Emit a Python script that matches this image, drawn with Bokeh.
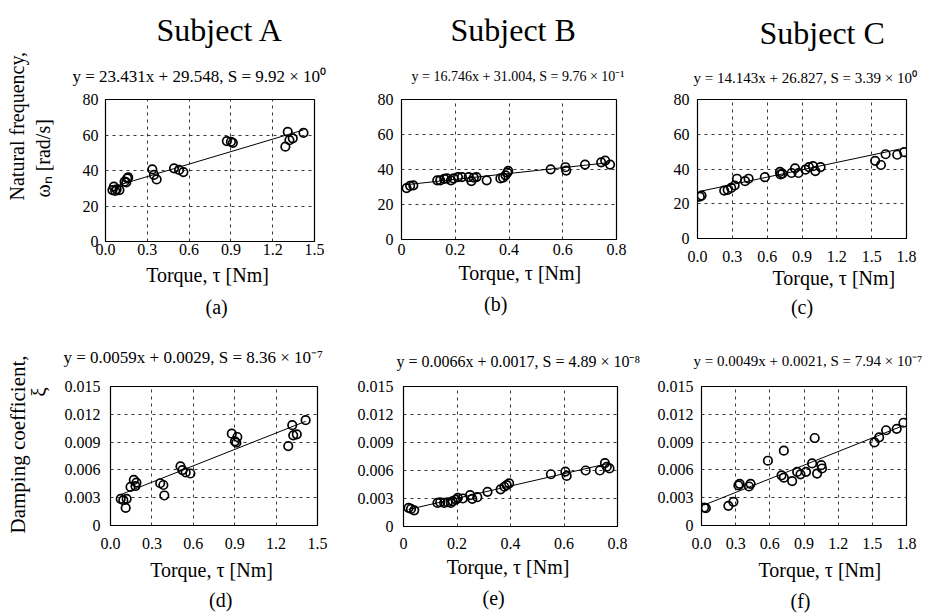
import math
from bokeh.plotting import figure
from bokeh.layouts import column, row
from bokeh.models import Range1d, FixedTicker, Title
from bokeh.embed import file_html
from bokeh.resources import INLINE

# ---------------- data ----------------
subjects = ["Subject A", "Subject B", "Subject C"]
panel_letters = ["(a)", "(b)", "(c)", "(d)", "(e)", "(f)"]

# Natural frequency [rad/s] vs torque [Nm]
a_tau = [0.05, 0.06, 0.07, 0.08, 0.10, 0.137, 0.149, 0.156, 0.163, 0.336, 0.348, 0.367,
         0.492, 0.528, 0.559, 0.871, 0.900, 0.914, 1.291, 1.308, 1.320, 1.344, 1.421]
a_wn = [29.0, 30.9, 28.5, 29.4, 29.0, 33.7, 33.3, 35.6, 36.1, 40.6, 37.5, 35.0,
        41.2, 40.3, 39.1, 56.6, 56.2, 55.6, 53.4, 61.8, 57.1, 58.1, 61.2]

b_tau = [0.019, 0.032, 0.044, 0.133, 0.144, 0.159, 0.169, 0.184, 0.194, 0.210, 0.225, 0.250,
         0.260, 0.269, 0.279, 0.317, 0.368, 0.378, 0.387, 0.394, 0.397, 0.555, 0.610, 0.613,
         0.683, 0.743, 0.758, 0.776]
b_wn = [29.4, 30.7, 30.9, 33.8, 33.8, 34.7, 34.9, 33.8, 34.9, 35.7, 35.7, 35.7,
        33.4, 35.3, 35.7, 33.8, 34.9, 35.3, 36.7, 38.2, 39.2, 40.1, 41.3, 39.4,
        42.8, 44.1, 45.1, 42.8]

c_tau = [0.02, 0.035, 0.23, 0.26, 0.29, 0.32, 0.34, 0.41, 0.44, 0.58, 0.71, 0.715, 0.73,
         0.81, 0.84, 0.87, 0.93, 0.96, 0.995, 1.015, 1.06, 1.53, 1.58, 1.62, 1.72, 1.78]
c_wn = [24.1, 24.7, 27.6, 28.0, 29.1, 30.5, 34.4, 33.0, 34.4, 35.3, 38.3, 36.9, 37.3,
        37.7, 40.4, 37.7, 39.6, 41.1, 41.6, 38.8, 41.1, 44.7, 42.3, 48.5, 48.2, 49.7]

# Damping coefficient vs torque [Nm]
d_tau = [0.074, 0.093, 0.110, 0.117, 0.145, 0.169, 0.181, 0.188, 0.360, 0.383, 0.390, 0.507,
         0.521, 0.545, 0.579, 0.879, 0.902, 0.912, 0.919, 1.288, 1.317, 1.324, 1.350, 1.414]
d_xi = [0.00288, 0.00273, 0.00190, 0.00288, 0.00416, 0.00492, 0.00426, 0.00463, 0.00456,
        0.00437, 0.00324, 0.00638, 0.00598, 0.00572, 0.00561, 0.00991, 0.00908, 0.00893,
        0.00955, 0.00857, 0.01083, 0.00973, 0.00984, 0.01137]

e_tau = [0.019, 0.028, 0.040, 0.127, 0.137, 0.152, 0.165, 0.177, 0.184, 0.196, 0.203, 0.222,
         0.249, 0.257, 0.276, 0.314, 0.363, 0.377, 0.386, 0.395, 0.551, 0.605, 0.610, 0.681,
         0.734, 0.753, 0.760, 0.770]
e_xi = [0.00199, 0.00188, 0.00173, 0.00253, 0.00260, 0.00253, 0.00260, 0.00253, 0.00271,
        0.00289, 0.00307, 0.00300, 0.00336, 0.00296, 0.00314, 0.00372, 0.00398, 0.00426,
        0.00444, 0.00463, 0.00560, 0.00589, 0.00542, 0.00600, 0.00600, 0.00680, 0.00640,
        0.00622]

f_tau = [0.023, 0.038, 0.236, 0.280, 0.324, 0.335, 0.417, 0.431, 0.583, 0.703, 0.723, 0.723,
         0.796, 0.840, 0.869, 0.918, 0.971, 0.994, 1.015, 1.052, 1.058, 1.519, 1.560, 1.621,
         1.714, 1.773]
f_xi = [0.00194, 0.00187, 0.00212, 0.00256, 0.00432, 0.00450, 0.00421, 0.00450, 0.00699,
        0.00541, 0.00808, 0.00516, 0.00479, 0.00578, 0.00552, 0.00578, 0.00670, 0.00944,
        0.00560, 0.00651, 0.00615, 0.00896, 0.00951, 0.01028, 0.01043, 0.01109]

# regression lines y = slope*x + intercept
fit_slope = [23.431, 16.746, 14.143, 0.0059, 0.0066, 0.0049]
fit_intercept = [29.548, 31.004, 26.827, 0.0029, 0.0017, 0.0021]
equations = [
    "y  = 23.431x + 29.548, S = 9.92 × 10⁰",
    "y  = 16.746x + 31.004, S = 9.76 × 10⁻¹",
    "y  = 14.143x + 26.827, S = 3.39 × 10⁰",
    "y  = 0.0059x + 0.0029, S = 8.36 × 10⁻⁷",
    "y  = 0.0066x + 0.0017, S = 4.89 × 10⁻⁸",
    "y  = 0.0049x + 0.0021, S = 7.94 × 10⁻⁷",
]

# axes
x_ticks_15 = [0, 0.3, 0.6, 0.9, 1.2, 1.5]
x_labels_15 = ["0.0", "0.3", "0.6", "0.9", "1.2", "1.5"]
x_ticks_08 = [0, 0.2, 0.4, 0.6, 0.8]
x_labels_08 = ["0", "0.2", "0.4", "0.6", "0.8"]
x_ticks_18 = [0, 0.3, 0.6, 0.9, 1.2, 1.5, 1.8]
x_labels_18 = ["0.0", "0.3", "0.6", "0.9", "1.2", "1.5", "1.8"]
y_ticks_wn = [0, 20, 40, 60, 80]
y_labels_wn = ["0", "20", "40", "60", "80"]
y_ticks_xi = [0, 0.003, 0.006, 0.009, 0.012, 0.015]
y_labels_xi = ["0", "0.003", "0.006", "0.009", "0.012", "0.015"]

x_axis_title = "Torque, τ  [Nm]"
y_title_wn = ["Natural frequency,", "ωₙ [rad/s]"]
y_title_xi = ["Damping coefficient,", "ξ"]

FONT = "Liberation Serif"


def add_title(p, text, side, size, standoff, offset=None, align=None):
    if align is None:
        align = "center" if offset is None else "left"
    kw = dict(text=text, text_font=FONT, text_font_size=f"{size}px",
              text_font_style="normal", text_color="black", align=align,
              offset=0 if offset is None else offset)
    try:
        t = Title(standoff=standoff, **kw)
    except Exception:
        t = Title(standoff=max(standoff, 0), **kw)
    p.add_layout(t, side)


def make_fig(g, xs, ys, k, xr, xt, xtl, yr, yt, ytl):
    p = figure(width=g["bl"] + g["fw"] + g["br"], height=g["bt"] + g["fh"] + g["bb"],
               frame_width=g["fw"], frame_height=g["fh"],
               min_border_left=g["bl"], min_border_right=g["br"],
               min_border_top=g["bt"], min_border_bottom=g["bb"],
               x_range=Range1d(*xr), y_range=Range1d(*yr),
               output_backend="svg", toolbar_location=None, title=None)
    p.background_fill_color = "white"
    p.border_fill_color = "white"
    p.outline_line_color = "black"
    p.outline_line_width = 1.2

    xtk = FixedTicker(ticks=xt)
    ytk = FixedTicker(ticks=yt)
    p.xaxis.ticker = xtk
    p.yaxis.ticker = ytk
    p.xgrid.ticker = xtk
    p.ygrid.ticker = ytk
    p.xaxis.major_label_overrides = dict(zip(xt, xtl))
    p.yaxis.major_label_overrides = dict(zip(yt, ytl))
    for ax, st in ((p.xaxis, g["xs"]), (p.yaxis, g["ys"])):
        ax.major_tick_line_color = None
        ax.minor_tick_line_color = None
        ax.major_tick_out = 0
        ax.major_tick_in = 0
        ax.axis_line_color = "black"
        ax.major_label_text_font = FONT
        ax.major_label_text_font_size = "16px"
        ax.major_label_text_color = "black"
        ax.major_label_standoff = st
    for gr in (p.xgrid, p.ygrid):
        gr.grid_line_color = "#222222"
        gr.grid_line_dash = "3 4"
        gr.grid_line_width = 1
        gr.grid_line_alpha = 0.9

    x0, x1 = min(xs), max(xs)
    p.line([x0, x1], [fit_slope[k] * x0 + fit_intercept[k], fit_slope[k] * x1 + fit_intercept[k]],
           line_color="black", line_width=1)
    p.scatter(xs, ys, marker="circle", size=8.5, fill_alpha=0, line_color="black", line_width=1.7)
    return p


# geometry per panel: borders, frame size, tick standoffs, title standoffs/offsets
G = [
    dict(bl=105, fw=209, br=16, bt=99, fh=142, bb=85, xs=2, ys=7,
         sub=(7, 51), eq=(17, 27, -33), xl=(8, None), lt=(9, 100),
         ygap=21, yl=[(20, 2, "left", 44), (20, 2, "left", 41)]),
    dict(bl=71, fw=215, br=24, bt=99, fh=140, bb=87, xs=4, ys=8,
         sub=(7, 49), eq=(14, 31, 10), xl=(4, 57), lt=(10, 82.5)),
    dict(bl=57, fw=209, br=29, bt=97, fh=139, bb=90, xs=12, ys=8,
         sub=(7, 62), eq=(15, 27, -4), xl=(0, 75), lt=(11, None)),
    dict(bl=110, fw=207, br=13, bt=60, fh=139, bb=89, xs=12, ys=10,
         eq=(17, 39, -47), xl=(11, None), lt=(0, 98.5),
         ygap=13, yl=[(21, -12, "right", 1), (21, 2, "left", -8)]),
    dict(bl=73, fw=214, br=23, bt=57, fh=140, bb=91, xs=11, ys=10,
         eq=(16, 34, -7), xl=(5, None), lt=(9, 79)),
    dict(bl=61, fw=205, br=29, bt=57, fh=139, bb=92, xs=12, ys=8,
         eq=(15, 35, -8), xl=(10, 57), lt=(4, 89)),
]

series = [(a_tau, a_wn), (b_tau, b_wn), (c_tau, c_wn), (d_tau, d_xi), (e_tau, e_xi), (f_tau, f_xi)]
xaxes = [((0, 1.5), x_ticks_15, x_labels_15), ((0, 0.8), x_ticks_08, x_labels_08),
         ((0, 1.8), x_ticks_18, x_labels_18)] * 2
yaxes = [((0, 80), y_ticks_wn, y_labels_wn)] * 3 + [((0, 0.015), y_ticks_xi, y_labels_xi)] * 3

figs = []
for k in range(6):
    g = G[k]
    xs, ys = series[k]
    xr, xt, xtl = xaxes[k]
    yr, yt, ytl = yaxes[k]
    p = make_fig(g, xs, ys, k, xr, xt, xtl, yr, yt, ytl)
    # above: equation (inner), subject (outer)
    es, est, eoff = g["eq"]
    add_title(p, equations[k], "above", es, est, offset=eoff)
    if k < 3:
        add_title(p, subjects[k], "above", 32, g["sub"][0], offset=g["sub"][1])
    # below: axis title (inner), panel letter (outer)
    add_title(p, x_axis_title, "below", 20, g["xl"][0], offset=g["xl"][1])
    add_title(p, panel_letters[k], "below", 20, g["lt"][0], offset=g["lt"][1])
    # left: y axis title lines (inner line first)
    if "yl" in g:
        p.yaxis.axis_label = " "
        p.yaxis.axis_label_text_font_size = "1px"
        p.yaxis.axis_label_standoff = g["ygap"]
        lines = y_title_wn if k == 0 else y_title_xi
        for (size, st, al, off), txt in zip(g["yl"], [lines[1], lines[0]]):
            add_title(p, txt, "left", size, st, offset=off, align=al)
    figs.append(p)

layout = column(row(figs[0], figs[1], figs[2]), row(figs[3], figs[4], figs[5]))

open("out.html", "w").write(file_html(layout, INLINE))
